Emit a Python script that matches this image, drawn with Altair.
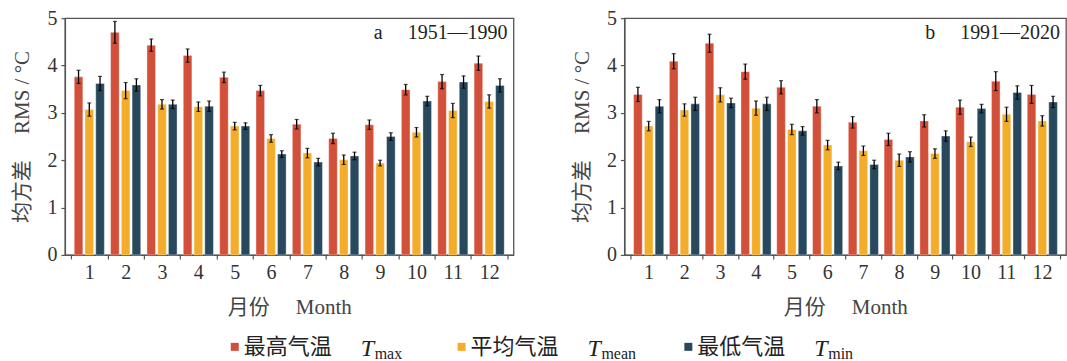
import altair as alt
import pandas as pd

# ---------------- data ----------------
months = [str(m) for m in range(1, 13)]
series_keys = ["Tmax", "Tmean", "Tmin"]
series_cn = ["最高气温", "平均气温", "最低气温"]
series_sub = ["max", "mean", "min"]
colors = ["#D2503A", "#F3AD2B", "#27485D"]

# panel a: 1951-1990
a_tmax = [3.76, 4.70, 4.43, 4.21, 3.75, 3.47, 2.76, 2.46, 2.75, 3.49, 3.66, 4.05]
a_tmean = [3.07, 3.47, 3.18, 3.13, 2.72, 2.46, 2.15, 2.01, 1.94, 2.59, 3.05, 3.24]
a_tmin = [3.62, 3.59, 3.18, 3.14, 2.72, 2.13, 1.96, 2.09, 2.50, 3.25, 3.65, 3.58]
a_tmax_err = [0.14, 0.23, 0.13, 0.14, 0.11, 0.11, 0.10, 0.11, 0.10, 0.11, 0.15, 0.15]
a_tmean_err = [0.14, 0.17, 0.10, 0.10, 0.08, 0.08, 0.10, 0.10, 0.06, 0.10, 0.15, 0.14]
a_tmin_err = [0.15, 0.13, 0.09, 0.11, 0.07, 0.07, 0.08, 0.08, 0.08, 0.10, 0.13, 0.14]

# panel b: 1991-2020
b_tmax = [3.39, 4.09, 4.47, 3.87, 3.54, 3.14, 2.80, 2.44, 2.83, 3.12, 3.67, 3.39]
b_tmean = [2.72, 3.06, 3.38, 3.10, 2.65, 2.32, 2.20, 2.00, 2.14, 2.39, 2.97, 2.83]
b_tmin = [3.14, 3.19, 3.21, 3.19, 2.62, 1.88, 1.91, 2.07, 2.51, 3.09, 3.43, 3.23]
b_tmax_err = [0.15, 0.16, 0.19, 0.16, 0.14, 0.14, 0.12, 0.13, 0.13, 0.15, 0.20, 0.19]
b_tmean_err = [0.10, 0.13, 0.15, 0.15, 0.11, 0.10, 0.10, 0.13, 0.10, 0.10, 0.15, 0.11]
b_tmin_err = [0.14, 0.14, 0.10, 0.14, 0.09, 0.08, 0.09, 0.11, 0.11, 0.09, 0.14, 0.12]

panel_labels = ["a\u2003 1951\u20141990", "b\u2003 1991\u20142020"]

SERIF = "Liberation Serif, Noto Sans CJK SC"
CJK = "Noto Sans CJK SC"


def make_df(vals, errs):
    rows = []
    for key, v, e in zip(series_keys, vals, errs):
        for m, val, err in zip(months, v, e):
            rows.append({"month": m, "series": key, "value": val,
                         "lo": val - err, "hi": val + err})
    return pd.DataFrame(rows)


def panel(df, label, width, height=237):
    base = alt.Chart(df)
    x = alt.X("month:N", sort=months,
              scale=alt.Scale(paddingInner=0, paddingOuter=0.17),
              axis=alt.Axis(title="月份\u2003 Month", labelAngle=0, tickBand="extent",
                            labelPadding=4, titlePadding=14, grid=False))
    xo = alt.XOffset("series:N", sort=series_keys,
                     scale=alt.Scale(paddingInner=0.2, paddingOuter=0.29))
    y = alt.Y("value:Q", scale=alt.Scale(domain=[0, 5], nice=False),
              axis=alt.Axis(title="均方差\u2003 RMS / °C", values=[0, 1, 2, 3, 4, 5],
                            labelPadding=4, titlePadding=14, grid=False))
    bars = base.mark_bar(stroke="white", strokeWidth=0.6, strokeOpacity=0.6).encode(
        x=x, xOffset=xo, y=y,
        color=alt.Color("series:N", scale=alt.Scale(domain=series_keys, range=colors), legend=None),
    )
    rules = base.mark_rule(color="black", strokeWidth=1.3).encode(
        x=x, xOffset=xo, y="lo:Q", y2="hi:Q")
    cap_lo = base.mark_tick(color="black", size=4, thickness=1.2).encode(x=x, xOffset=xo, y="lo:Q")
    cap_hi = base.mark_tick(color="black", size=4, thickness=1.2).encode(x=x, xOffset=xo, y="hi:Q")
    lab = alt.Chart(alt.Data(values=[{"t": label}])).mark_text(
        align="right", baseline="middle", font=SERIF, fontSize=20, color="#222"
    ).encode(text="t:N", x=alt.value(width - 6), y=alt.value(15))
    return alt.layer(bars, rules, cap_lo, cap_hi, lab).properties(width=width, height=height)


left = panel(make_df([a_tmax, a_tmean, a_tmin], [a_tmax_err, a_tmean_err, a_tmin_err]),
             panel_labels[0], 449)
right = panel(make_df([b_tmax, b_tmean, b_tmin], [b_tmax_err, b_tmean_err, b_tmin_err]),
              panel_labels[1], 442)

top = alt.hconcat(left, right, spacing=56)

# ---------------- legend ----------------
leg_df = pd.DataFrame({"series": series_keys, "cn": series_cn, "sub": series_sub})
lx = alt.X("series:N", sort=series_keys,
           scale=alt.Scale(type="point", domain=series_keys, range=[170, 624], padding=0),
           axis=None)
lbase = alt.Chart(leg_df)
sq = lbase.mark_square(size=64, opacity=1).encode(
    x=lx, color=alt.Color("series:N", scale=alt.Scale(domain=series_keys, range=colors), legend=None))
cn = lbase.mark_text(align="left", baseline="middle", dx=9, font=CJK, fontSize=22, color="#222").encode(
    x=lx, text="cn:N")
tt = lbase.mark_text(align="left", baseline="alphabetic", dx=126, dy=9, font="Liberation Serif",
                     fontSize=24, fontStyle="italic", color="#222", text="T").encode(x=lx)
sub = lbase.mark_text(align="left", baseline="alphabetic", dx=140, dy=12, font="Liberation Serif",
                      fontSize=16, color="#222").encode(x=lx, text="sub:N")
legend = alt.layer(sq, cn, tt, sub).properties(
    width=760, height=24, view=alt.ViewBackground(strokeOpacity=0))

chart = alt.vconcat(top, legend, spacing=16).properties(
    padding={"left": 11, "top": 7, "right": 0, "bottom": 0}
).configure_view(stroke="#555", strokeWidth=1.3).configure_axis(
    domainColor="#555", domainWidth=1.3, tickColor="#555", tickWidth=1.2, tickSize=4,
    labelFont="Liberation Serif", labelFontSize=20, labelColor="#333",
    titleFont=SERIF, titleFontSize=21, titleColor="#444", titleFontWeight="normal",
)

chart.save("out.html", embed_options={"renderer": "svg", "actions": False})
